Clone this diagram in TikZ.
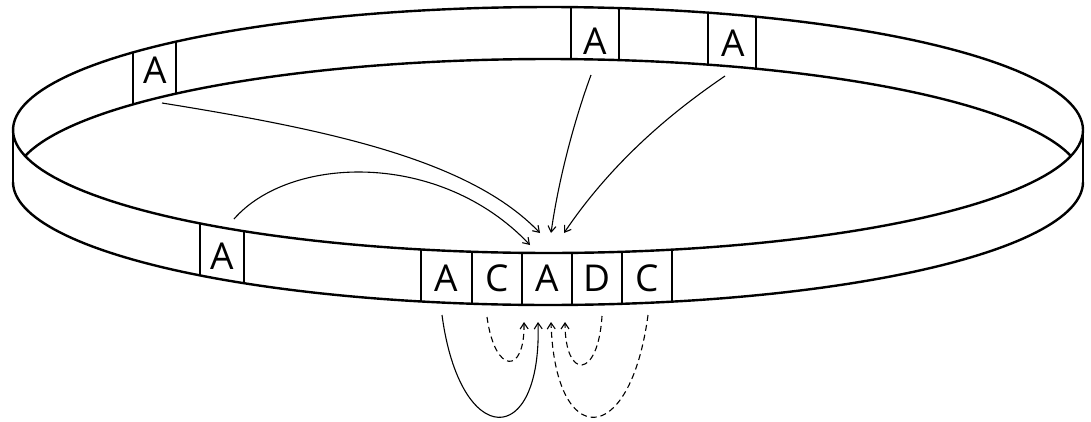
\documentclass[tikz,border=0pt]{standalone}
\usepackage{fontspec}
\setmainfont{Open Sans}
\usetikzlibrary{arrows.meta}
\begin{document}
\begin{tikzpicture}[
  x=1pt, y=-1pt,
  band/.style={line width=2.4pt, line join=round},
  letter/.style={inner sep=0pt, font=\fontsize{37}{42}\selectfont},
  link/.style={line width=1.1pt, -{Straight Barb[length=6pt,width=8pt]}},
  loose/.style={link, dash pattern=on 6pt off 4pt}
]
\fill[white] (0,0) rectangle (1091,421);
\useasboundingbox (0,0) rectangle (1091,421);

% ring
\draw[band] plot[domain=0:360, samples=200] ({548+535*cos(\x)}, {130-123*sin(\x)});
\draw[band] plot[domain=12.2:167.8, samples=120] ({548+535*cos(\x)}, {182-123*sin(\x)});
\draw[band] plot[domain=180:360, samples=120] ({548+535*cos(\x)}, {182-123*sin(\x)});
\draw[band] (13,130) -- (13,182);
\draw[band] (1083,130) -- (1083,182);
\foreach \bx in {133,176,571,619,708,756}
  \draw[band] (\bx,{130-123*sqrt(1-((\bx-548)/535)^2)}) -- ++(0,52);
\foreach \fx in {200,244,421,472,522,572,622,672}
  \draw[band] (\fx,{130+123*sqrt(1-((\fx-548)/535)^2)}) -- ++(0,52);

\node[letter] (ba1) at (155,70) {A};
\node[letter] (ba2) at (595,41) {A};
\node[letter] (ba3) at (733,43) {A};
\node[letter] (fa) at (222,256) {A};
\node[letter] (r1) at (446,278) {A};
\node[letter] (r2) at (497,278) {C};
\node[letter] (r3) at (547,278) {A};
\node[letter] (r4) at (597,278) {D};
\node[letter] (r5) at (647,278) {C};

\draw[link] ([shift={(7,33)}]ba1.center) .. controls +(168,27) and +(-70,-73) .. ([shift={(-7,-45)}]r3.center);
\draw[link] ([shift={(12,-37)}]fa.center) .. controls +(56,-64) and +(-90,-95) .. ([shift={(-17,-33)}]r3.center);
\draw[link] ([shift={(-4,34)}]ba2.center) .. controls +(-13,35) and +(9,-63) .. ([shift={(4,-45)}]r3.center);
\draw[link] ([shift={(-8,33)}]ba3.center) .. controls +(-35,24) and +(56,-83) .. ([shift={(17,-45)}]r3.center);

\draw[link] ([shift={(-4,37)}]r1.center) .. controls +(18,135) and +(4,128) .. ([shift={(-9,44)}]r3.center);
\draw[loose] ([shift={(-10,39)}]r2.center) .. controls +(8,58) and +(1,53) .. ([shift={(-23,44)}]r3.center);
\draw[loose] ([shift={(5,38)}]r4.center) .. controls +(-4,64) and +(0,58) .. ([shift={(18,44)}]r3.center);
\draw[loose] ([shift={(1,37)}]r5.center) .. controls +(-18,135) and +(4,128) .. ([shift={(4,44)}]r3.center);
\end{tikzpicture}
\end{document}
